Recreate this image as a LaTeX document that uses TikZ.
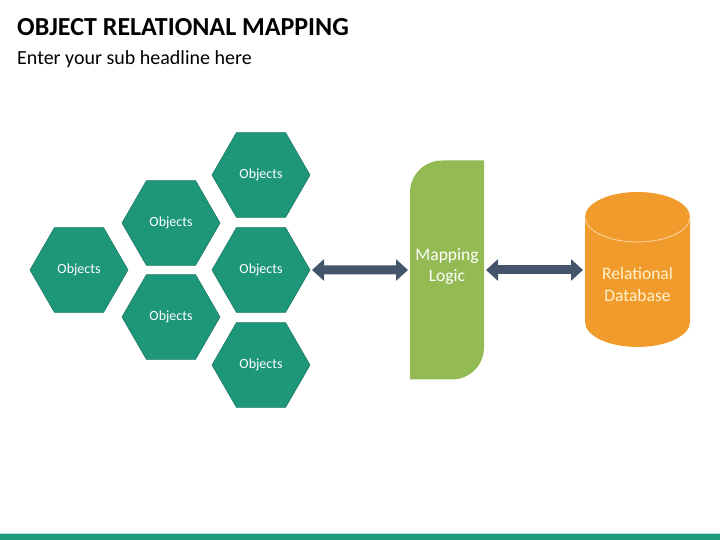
\documentclass[tikz,border=0pt]{standalone}
\usepackage{fontspec}
\setmainfont{Carlito}
\usepackage{xcolor}
\usepackage{tikz}
\usetikzlibrary{backgrounds,positioning,shapes.geometric,arrows.meta,calc}

\definecolor{hexteal}{RGB}{30,150,122}
\definecolor{mapgreen}{RGB}{148,186,84}
\definecolor{dborange}{RGB}{242,155,45}
\definecolor{dbtext}{RGB}{255,242,204}
\definecolor{arrowblue}{RGB}{68,84,106}
\definecolor{barteal}{RGB}{30,155,125}

\begin{document}
\begin{tikzpicture}[
    x=1pt, y=1pt,
    hex/.style={regular polygon, regular polygon sides=6, minimum size=98pt,
        inner sep=0pt, outer sep=0pt, fill=hexteal, draw=hexteal!80!black,
        line width=0.6pt, text=white, font=\fontsize{14}{16}\selectfont},
    logic/.style={minimum width=74pt, minimum height=219pt, inner sep=0pt,
        outer sep=0pt},
    store/.style={minimum width=105pt, minimum height=60pt, inner sep=0pt,
        outer sep=0pt, text=dbtext, align=center,
        font=\fontsize{17.5}{22}\selectfont},
    link/.style={line width=9pt, arrowblue,
        {Triangle[width=21pt,length=12pt]}-{Triangle[width=21pt,length=12pt]}}
]
\useasboundingbox (0,0) rectangle (720,540);

% Title
\node[anchor=base west, inner sep=0pt, font=\fontsize{26}{30}\selectfont\bfseries]
    (title) at (17,504) {OBJECT RELATIONAL MAPPING};
\node[anchor=base west, inner sep=0pt, font=\fontsize{20}{24}\selectfont]
    (sub) at (17,475) {Enter your sub headline here};

% Objects: honeycomb of hexagons
\node[hex] (h1) at (79,270) {Objects};
\node[hex] (h2) at (171,317) {Objects};
\node[hex] (h3) at (171,223) {Objects};
\node[hex] (h4) at (261,365) {Objects};
\node[hex] (h5) at (261,270) {Objects};
\node[hex] (h6) at (261,175) {Objects};

% Mapping logic block
\node[logic] (map) at (447,270) {};
\node[text=white, align=center, font=\fontsize{17.5}{21}\selectfont]
    (maptext) at (447,274) {Mapping\\Logic};
\begin{scope}[on background layer]
\fill[mapgreen] (map.south west) -- ([yshift=-32pt]map.north west)
    arc[start angle=180, end angle=90, radius=32pt] -- (map.north east)
    -- ([yshift=32pt]map.south east)
    arc[start angle=0, end angle=-90, radius=32pt] -- cycle;
\end{scope}

% Relational database cylinder
\node[store] (db) at (637.5,256) {Relational\\Database};
\begin{scope}[on background layer]
\fill[dborange] (585,323) -- (585,218)
    arc[start angle=180, end angle=360, x radius=52.5pt, y radius=25pt]
    -- (690,323)
    arc[start angle=0, end angle=180, x radius=52.5pt, y radius=25pt] -- cycle;
\draw[dborange!40!white, line width=0.8pt] (585,323)
    arc[start angle=180, end angle=360, x radius=52.5pt, y radius=25pt];
\end{scope}

% Connectors
\draw[link] ([xshift=2pt]h5.east) -- ([xshift=-2pt]map.west);
\draw[link] ([xshift=2pt]map.east) -- ([xshift=-2pt]db.west |- map.east);

% Bottom bar
\fill[barteal] (0,0) rectangle (720,6);
\draw[barteal!30!white, line width=0.8pt] (0,6.5) -- (720,6.5);

\end{tikzpicture}
\end{document}
